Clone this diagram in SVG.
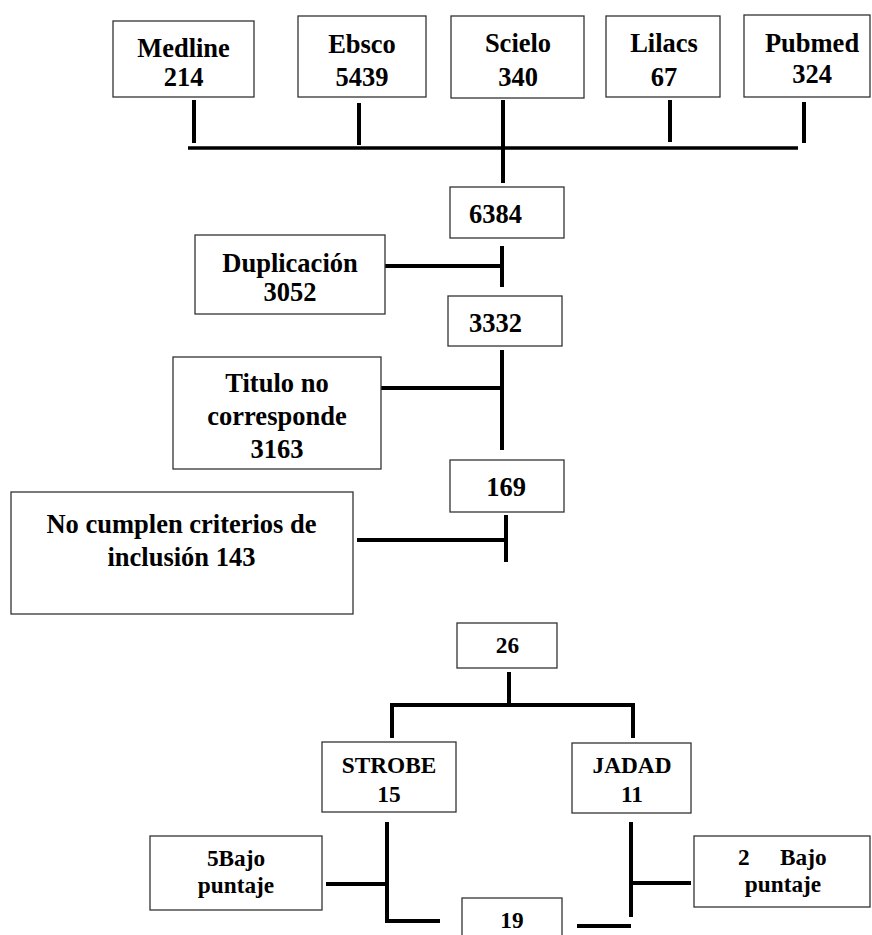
<svg xmlns="http://www.w3.org/2000/svg" width="872" height="935" viewBox="0 0 872 935">
<style>
.box{fill:#fff;stroke:#333;stroke-width:1.3}
text{font-family:"Liberation Serif","Times New Roman",serif;font-weight:bold;fill:#000;text-anchor:middle}
.t{font-size:26.5px}
.s{font-size:23.3px}
.ln{stroke:#000;stroke-width:4;fill:none;stroke-linecap:butt}
.ln3{stroke:#000;stroke-width:3.5;fill:none}
</style>
<rect width="872" height="935" fill="#fff"/>
<g id="connectors">
<line class="ln" x1="194" y1="100" x2="194" y2="143"/>
<line class="ln" x1="359" y1="103" x2="359" y2="145"/>
<line class="ln" x1="503" y1="100" x2="503" y2="183"/>
<line class="ln" x1="670" y1="100" x2="670" y2="142"/>
<line class="ln" x1="804" y1="102" x2="804" y2="143"/>
<line class="ln3" x1="188" y1="148" x2="798" y2="148"/>
<line class="ln" x1="385" y1="266" x2="502" y2="266"/>
<line class="ln" x1="502" y1="246" x2="502" y2="287"/>
<line class="ln" x1="502" y1="350" x2="502" y2="450"/>
<line class="ln" x1="377" y1="388" x2="502" y2="388"/>
<line class="ln" x1="506" y1="515" x2="506" y2="562"/>
<line class="ln" x1="357" y1="540" x2="506" y2="540"/>
<line class="ln" x1="509" y1="672" x2="509" y2="705"/>
<line class="ln" x1="390" y1="705" x2="635" y2="705"/>
<line class="ln" x1="392" y1="705" x2="392" y2="738"/>
<line class="ln" x1="633" y1="705" x2="633" y2="738"/>
<line class="ln" x1="387" y1="822" x2="387" y2="923"/>
<line class="ln" x1="326" y1="884" x2="387" y2="884"/>
<line class="ln" x1="385" y1="921" x2="440" y2="921"/>
<line class="ln" x1="631" y1="822" x2="631" y2="917"/>
<line class="ln" x1="631" y1="883" x2="691" y2="883"/>
<line class="ln" x1="577" y1="926" x2="631" y2="926"/>
</g>
<g id="medline"><rect class="box" x="113" y="21" width="141" height="76"/><text class="t" x="183.5" y="57">Medline</text><text class="t" x="183.5" y="86">214</text></g>
<g id="ebsco"><rect class="box" x="298" y="16" width="128" height="81"/><text class="t" x="362" y="53">Ebsco</text><text class="t" x="362" y="86">5439</text></g>
<g id="scielo"><rect class="box" x="451" y="16" width="133" height="82"/><text class="t" x="518" y="52">Scielo</text><text class="t" x="518" y="86">340</text></g>
<g id="lilacs"><rect class="box" x="606" y="16" width="114" height="81"/><text class="t" x="664" y="52">Lilacs</text><text class="t" x="664" y="86">67</text></g>
<g id="pubmed"><rect class="box" x="744" y="15" width="126" height="82"/><text class="t" x="812" y="52">Pubmed</text><text class="t" x="812" y="83">324</text></g>
<g id="n6384"><rect class="box" x="450" y="187" width="114" height="51"/><text class="t" x="495.5" y="223">6384</text></g>
<g id="duplicacion"><rect class="box" x="195" y="235" width="190" height="79"/><text class="t" x="290" y="272">Duplicación</text><text class="t" x="290" y="301">3052</text></g>
<g id="n3332"><rect class="box" x="448" y="296" width="114" height="50"/><text class="t" x="495.5" y="332">3332</text></g>
<g id="titulo"><rect class="box" x="173" y="357" width="208" height="112"/><text class="t" x="277" y="392">Titulo no</text><text class="t" x="277" y="425">corresponde</text><text class="t" x="277" y="458">3163</text></g>
<g id="n169"><rect class="box" x="450" y="460" width="114" height="52"/><text class="t" x="506" y="496">169</text></g>
<g id="nocumplen"><rect class="box" x="11" y="492" width="342" height="122"/><text class="t" x="181.5" y="532.5">No cumplen criterios de</text><text class="t" x="181.5" y="566">inclusión 143</text></g>
<g id="n26"><rect class="box" x="457" y="623" width="100" height="45"/><text class="s" x="507.5" y="653">26</text></g>
<g id="strobe"><rect class="box" x="322" y="742" width="134" height="70"/><text class="s" x="389" y="773">STROBE</text><text class="s" x="389" y="802">15</text></g>
<g id="jadad"><rect class="box" x="572" y="743" width="119" height="70"/><text class="s" x="632" y="773">JADAD</text><text class="s" x="632" y="802">11</text></g>
<g id="bajo5"><rect class="box" x="150" y="836" width="172" height="74"/><text class="s" x="236" y="866">5Bajo</text><text class="s" x="236" y="893">puntaje</text></g>
<g id="bajo2"><rect class="box" x="694" y="836" width="176" height="71"/><text class="s" style="text-anchor:start" y="865"><tspan x="738">2</tspan><tspan x="780">Bajo</tspan></text><text class="s" x="783" y="892">puntaje</text></g>
<g id="n19"><rect class="box" x="462" y="898" width="100" height="45"/><text class="s" x="512" y="928">19</text></g>
</svg>
